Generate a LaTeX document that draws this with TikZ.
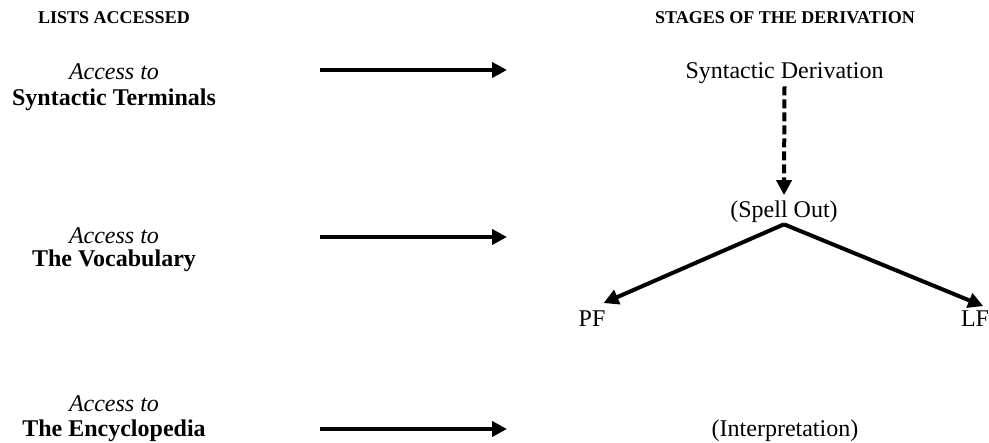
\documentclass[tikz,border=0pt]{standalone}
\usepackage{fontspec}
\setmainfont{Liberation Serif}
\usetikzlibrary{arrows.meta}
\begin{document}
\begin{tikzpicture}[x=1pt,y=-1pt,
  txt/.style={inner sep=0pt,anchor=base,font=\fontsize{24}{26}\selectfont},
  head/.style={inner sep=0pt,anchor=base,font=\fontsize{18}{20}\selectfont\bfseries},
  lst/.style={inner sep=0pt,anchor=base,font=\fontsize{24}{26}\selectfont\bfseries},
  acc/.style={inner sep=0pt,anchor=base,font=\fontsize{24}{26}\selectfont\itshape},
  arr/.style={line width=4pt,-{Triangle[length=15pt,width=15pt]}},
  darr/.style={arr,dash pattern=on 9pt off 4pt}]
\useasboundingbox (0,0) rectangle (989,443);
% headings
\node[head] (h1) at (114,24) {LISTS ACCESSED};
\node[head] (h2) at (785,24) {STAGES OF THE DERIVATION};
% left column
\node[acc] (acc1) at (114,80) {Access to};
\node[lst] (l1) at (114,106) {Syntactic Terminals};
\node[acc] (acc2) at (114,244) {Access to};
\node[lst] (l2) at (114,267) {The Vocabulary};
\node[acc] (acc3) at (114,412) {Access to};
\node[lst] (l3) at (114,437) {The Encyclopedia};
% horizontal arrows
\coordinate (a1s) at (320,70);  \coordinate (a1e) at (507,70);
\coordinate (a2s) at (320,237); \coordinate (a2e) at (507,237);
\coordinate (a3s) at (320,429); \coordinate (a3e) at (507,429);
\draw[arr] (a1s) -- (a1e);
\draw[arr] (a2s) -- (a2e);
\draw[arr] (a3s) -- (a3e);
% right column
\node[txt] (sd) at (784.5,79) {Syntactic Derivation};
\node[txt] (so) at (784,218) {(Spell Out)};
\node[txt] (pf) at (592,327) {PF};
\node[txt] (lf) at (975,327) {LF};
\node[txt] (int) at (785,437) {(Interpretation)};
\coordinate (apex) at ([yshift=-1pt]so.south);
\draw[darr] ([yshift=-2pt]sd.south) -- ([yshift=6pt]so.north);
\draw[arr] (apex) -- ([xshift=-2pt,yshift=8pt]pf.north east);
\draw[arr] (apex) -- ([xshift=-6pt,yshift=5pt]lf.north east);
\end{tikzpicture}
\end{document}
